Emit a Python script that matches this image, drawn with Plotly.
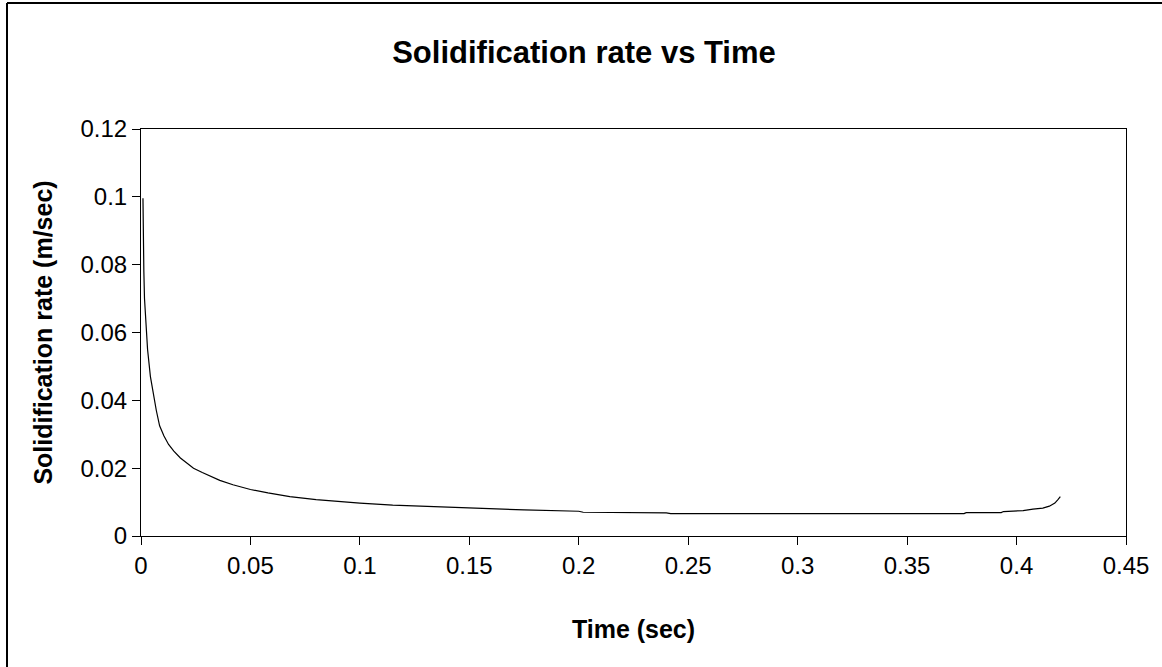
import plotly.graph_objects as go

# Data
time_sec = [0.0009, 0.0010, 0.0013, 0.0016, 0.0020, 0.0030, 0.0043, 0.0055, 0.0070,
            0.0085, 0.0105, 0.0126, 0.0150, 0.0180, 0.0210, 0.0240, 0.0280, 0.0316,
            0.0360, 0.0420, 0.0500, 0.0580, 0.0680, 0.0800, 0.0900, 0.1000, 0.1150,
            0.1300, 0.1500, 0.1750, 0.2000, 0.2020, 0.2400, 0.2420, 0.2800, 0.3200,
            0.3500, 0.3760, 0.3770, 0.3930, 0.3940, 0.4030, 0.4075, 0.4120, 0.4150,
            0.4175, 0.4190, 0.4200]
rate_m_per_sec = [0.0996, 0.0900, 0.0780, 0.0700, 0.0660, 0.0550, 0.0470, 0.0420, 0.0370,
                  0.0325, 0.0295, 0.0270, 0.0250, 0.0230, 0.0215, 0.0200, 0.0187, 0.0176,
                  0.0164, 0.0151, 0.0137, 0.0127, 0.0116, 0.0107, 0.0101, 0.0097, 0.0091,
                  0.0087, 0.0082, 0.0077, 0.0073, 0.0070, 0.0068, 0.0066, 0.0066, 0.0066,
                  0.0066, 0.0066, 0.0069, 0.0069, 0.0072, 0.0075, 0.0079, 0.0082, 0.0088,
                  0.0097, 0.0108, 0.0116]

x_ticks = [0, 0.05, 0.1, 0.15, 0.2, 0.25, 0.3, 0.35, 0.4, 0.45]
x_tick_labels = ["0", "0.05", "0.1", "0.15", "0.2", "0.25", "0.3", "0.35", "0.4", "0.45"]
y_ticks = [0, 0.02, 0.04, 0.06, 0.08, 0.1, 0.12]
y_tick_labels = ["0", "0.02", "0.04", "0.06", "0.08", "0.1", "0.12"]

FONT = "Liberation Sans, Arial, sans-serif"

fig = go.Figure()
fig.add_trace(go.Scatter(x=time_sec, y=rate_m_per_sec, mode="lines",
                         line=dict(color="black", width=1.2), showlegend=False))

ml, mr, mt, mb = 141, 36, 129, 131
W, H = 1162, 667
pw, ph = W - ml - mr, H - mt - mb

def px_to_paper_x(px):
    return (px - ml) / pw

def px_to_paper_y(py):
    return (H - mb - py) / ph

fig.update_layout(
    width=W, height=H,
    margin=dict(l=ml, r=mr, t=mt, b=mb),
    paper_bgcolor="white", plot_bgcolor="white",
    font=dict(family=FONT, color="black"),
    title=dict(text="<b>Solidification rate vs Time</b>", font=dict(size=31, family=FONT, color="black"),
               x=584 / W, xanchor="center", y=1 - 52 / H, yanchor="middle",
               xref="container", yref="container"),
    xaxis=dict(range=[0, 0.45], tickvals=x_ticks, ticktext=x_tick_labels,
               showgrid=False, zeroline=False, showline=True, linecolor="black", linewidth=1,
               mirror=True, ticks="outside", ticklen=8, tickcolor="black", tickwidth=1,
               tickfont=dict(size=24, family=FONT, color="black"),
               title=dict(text="<b>Time (sec)</b>", font=dict(size=25, family=FONT, color="black"),
                          standoff=42)),
    yaxis=dict(range=[0, 0.12], tickvals=y_ticks, ticktext=y_tick_labels,
               showgrid=False, zeroline=False, showline=True, linecolor="black", linewidth=1,
               mirror=True, ticks="outside", ticklen=8, tickcolor="black", tickwidth=1,
               tickfont=dict(size=24, family=FONT, color="black"),
               title=dict(text="<b>Solidification rate (m/sec)</b>",
                          font=dict(size=25, family=FONT, color="black"), standoff=20)),
)

# Outer chart frame (only top and left edges visible in the crop)
fig.add_shape(type="line", xref="paper", yref="paper",
              x0=px_to_paper_x(7), x1=px_to_paper_x(W + 20),
              y0=px_to_paper_y(3), y1=px_to_paper_y(3),
              line=dict(color="black", width=2))
fig.add_shape(type="line", xref="paper", yref="paper",
              x0=px_to_paper_x(7), x1=px_to_paper_x(7),
              y0=px_to_paper_y(3), y1=px_to_paper_y(H + 20),
              line=dict(color="black", width=2))

fig.write_html("out.html")
